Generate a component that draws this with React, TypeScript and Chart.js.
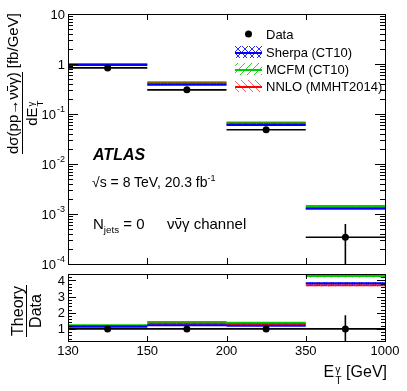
import React, { useEffect, useRef } from "react";
import { Chart, registerables } from "chart.js";

Chart.register(...registerables);

// ---------------- data ----------------
const binEdgeLabels = ["130", "150", "200", "350", "1000"];
const dataValues = [0.836, 0.304, 0.0484, 3.43e-4];
const dataErrors = [0.06, 0.025, 0.005, 2.9e-4];
const sherpaValues = [0.95, 0.383, 0.06, 1.3e-3];
const mcfmValues = [1.0, 0.434, 0.0677, 1.45e-3];
const nnloValues = [0.97, 0.406, 0.0637, 1.27e-3];

const dataRatio = [1, 1, 1, 1];
const dataRatioErrors = [0.08, 0.09, 0.1, 0.85];
const sherpaRatio = [1.14, 1.22, 1.2, 3.82];
const mcfmRatio = [1.22, 1.42, 1.38, 4.27];
const nnloRatio = [1.18, 1.32, 1.28, 3.7];
const bandRelUnc = 0.02;

const topMajorTicks = [10, 1, 0.1, 0.01, 0.001, 0.0001];
const topMajorLabels: [string, string][] = [
  ["10", ""],
  ["1", ""],
  ["10", "-1"],
  ["10", "-2"],
  ["10", "-3"],
  ["10", "-4"],
];
const ratioMajorTicks = [1, 2, 3, 4];
const ratioMajorLabels = ["1", "2", "3", "4"];

const legendLabels = ["Data", "Sherpa (CT10)", "MCFM (CT10)", "NNLO (MMHT2014)"];

const FONT = "'Liberation Sans', Arial, Helvetica, sans-serif";
const BLUE = "#0000ff";
const GREEN = "#00cc00";
const RED = "#ff0000";

// ---------------- helpers ----------------
type Pt = { x: number; y: number | null };
function segs(vals: number[]): Pt[] {
  const pts: Pt[] = [];
  vals.forEach((v, i) => {
    pts.push({ x: i, y: v }, { x: i + 1, y: v }, { x: i + 1, y: null });
  });
  return pts;
}
function errSegs(vals: number[], errs: number[]): Pt[] {
  const pts: Pt[] = [];
  vals.forEach((v, i) => {
    pts.push({ x: i + 0.5, y: v - errs[i] }, { x: i + 0.5, y: v + errs[i] }, { x: i + 0.5, y: null });
  });
  return pts;
}
function centers(vals: number[]): Pt[] {
  return vals.map((v, i) => ({ x: i + 0.5, y: v }));
}

function makePattern(color: string, kind: "x" | "/" | "\\"): CanvasPattern | string {
  const c = document.createElement("canvas");
  const s = 7;
  c.width = s;
  c.height = s;
  const g = c.getContext("2d");
  if (!g) return color;
  g.strokeStyle = color;
  g.globalAlpha = 0.85;
  g.lineWidth = 1;
  const fwd = () => {
    g.beginPath();
    g.moveTo(0, s);
    g.lineTo(s, 0);
    g.moveTo(-1, 1);
    g.lineTo(1, -1);
    g.moveTo(s - 1, s + 1);
    g.lineTo(s + 1, s - 1);
    g.stroke();
  };
  const back = () => {
    g.beginPath();
    g.moveTo(0, 0);
    g.lineTo(s, s);
    g.moveTo(s - 1, -1);
    g.lineTo(s + 1, 1);
    g.moveTo(-1, s - 1);
    g.lineTo(1, s + 1);
    g.stroke();
  };
  if (kind === "/" || kind === "x") fwd();
  if (kind === "\\" || kind === "x") back();
  const p = g.createPattern(c, "repeat");
  return p || color;
}

function theorySets(vals: number[], color: string, pattern: any, order: number) {
  return [
    {
      data: segs(vals.map((v) => v * (1 + bandRelUnc))),
      borderWidth: 0,
      pointRadius: 0,
      fill: false,
      order,
    },
    {
      data: segs(vals.map((v) => v * (1 - bandRelUnc))),
      borderWidth: 0,
      pointRadius: 0,
      fill: "-1",
      backgroundColor: pattern,
      order,
    },
    {
      data: segs(vals),
      borderColor: color,
      borderWidth: 2,
      pointRadius: 0,
      fill: false,
      order,
    },
  ];
}

function dataSets(vals: number[], errs: number[]) {
  return [
    {
      data: centers(vals),
      showLine: false,
      pointRadius: 3.5,
      pointBackgroundColor: "#000",
      pointBorderWidth: 0,
      order: 0,
    },
    { data: segs(vals), borderColor: "#000", borderWidth: 1.6, pointRadius: 0, order: 1 },
    { data: errSegs(vals, errs), borderColor: "#000", borderWidth: 1.6, pointRadius: 0, order: 1 },
  ];
}

function crisp(v: number) {
  return Math.round(v) + 0.5;
}

function drawFrame(chart: any, xTickLen: number) {
  const { ctx, chartArea: a, scales } = chart;
  const x = scales.x;
  ctx.save();
  ctx.strokeStyle = "#000";
  ctx.lineWidth = 1;
  ctx.strokeRect(crisp(a.left), crisp(a.top), Math.round(a.right - a.left), Math.round(a.bottom - a.top));
  ctx.beginPath();
  for (let i = 1; i < binEdgeLabels.length - 1; i++) {
    const px = crisp(x.getPixelForValue(i));
    ctx.moveTo(px, a.bottom);
    ctx.lineTo(px, a.bottom - xTickLen);
    ctx.moveTo(px, a.top);
    ctx.lineTo(px, a.top + xTickLen);
  }
  ctx.stroke();
  ctx.restore();
}

function yTick(ctx: any, a: any, py: number, len: number) {
  const y = crisp(py);
  ctx.moveTo(a.left, y);
  ctx.lineTo(a.left + len, y);
  ctx.moveTo(a.right, y);
  ctx.lineTo(a.right - len, y);
}

function makeTopAxesPlugin(pats: any[]) {
  return {
    id: "topAxes",
    afterDraw(chart: any) {
      const { ctx, chartArea: a, scales } = chart;
      const y = scales.y;
      drawFrame(chart, 6);
      ctx.save();
      ctx.strokeStyle = "#000";
      ctx.lineWidth = 1;
      ctx.beginPath();
      topMajorTicks.forEach((v) => yTick(ctx, a, y.getPixelForValue(v), 10));
      for (let d = -4; d < 1; d++) {
        for (let m = 2; m <= 9; m++) {
          const v = m * Math.pow(10, d);
          yTick(ctx, a, y.getPixelForValue(v), 5);
        }
      }
      ctx.stroke();
      // labels
      ctx.fillStyle = "#000";
      ctx.textBaseline = "middle";
      topMajorTicks.forEach((v, i) => {
        const py = y.getPixelForValue(v);
        const [base, exp] = topMajorLabels[i];
        const right = a.left - 3;
        ctx.font = `13px ${FONT}`;
        const bw = ctx.measureText(base).width;
        ctx.font = `9px ${FONT}`;
        const ew = exp ? ctx.measureText(exp).width + 1 : 0;
        ctx.font = `13px ${FONT}`;
        ctx.textAlign = "left";
        ctx.fillText(base, right - ew - bw, py + 1);
        if (exp) {
          ctx.font = `9px ${FONT}`;
          ctx.fillText(exp, right - ew + 1, py - 4);
        }
      });
      // legend
      const lx = 235;
      const lw = 27;
      const ly = [34, 52, 69, 86];
      const cols = [null, BLUE, GREEN, RED];
      ctx.textAlign = "left";
      legendLabels.forEach((lab, i) => {
        const yy = ly[i];
        if (i === 0) {
          ctx.beginPath();
          ctx.fillStyle = "#000";
          ctx.arc(lx + lw / 2, yy, 3.5, 0, Math.PI * 2);
          ctx.fill();
        } else {
          ctx.fillStyle = pats[i - 1];
          ctx.fillRect(lx, yy - 6, lw, 12);
          ctx.beginPath();
          ctx.strokeStyle = cols[i] as string;
          ctx.lineWidth = 2;
          ctx.moveTo(lx, yy + 1);
          ctx.lineTo(lx + lw, yy + 1);
          ctx.stroke();
        }
        ctx.fillStyle = "#000";
        ctx.font = `13px ${FONT}`;
        ctx.fillText(lab, 266, yy + 1);
      });
      ctx.restore();
    },
  };
}

const ratioAxesPlugin = {
  id: "ratioAxes",
  afterDraw(chart: any) {
    const { ctx, chartArea: a, scales } = chart;
    const y = scales.y;
    const x = scales.x;
    drawFrame(chart, 5);
    ctx.save();
    ctx.strokeStyle = "#000";
    ctx.lineWidth = 1;
    ctx.beginPath();
    ratioMajorTicks.forEach((v) => yTick(ctx, a, y.getPixelForValue(v), 8));
    for (let k = 0; k * 0.2 <= y.max + 1e-9; k++) {
      const v = k * 0.2;
      if (v < y.min) continue;
      if (Math.abs(v - Math.round(v)) < 1e-6) continue;
      yTick(ctx, a, y.getPixelForValue(v), 4);
    }
    ctx.stroke();
    ctx.fillStyle = "#000";
    ctx.font = `13px ${FONT}`;
    ctx.textBaseline = "middle";
    ctx.textAlign = "right";
    ratioMajorTicks.forEach((v, i) => {
      ctx.fillText(ratioMajorLabels[i], a.left - 3, y.getPixelForValue(v) + 1);
    });
    ctx.textAlign = "center";
    binEdgeLabels.forEach((lab, i) => {
      ctx.fillText(lab, x.getPixelForValue(i), a.bottom + 10);
    });
    ctx.restore();
  },
};

function baseOptions(padding: any, yScale: any) {
  return {
    animation: false as const,
    responsive: false,
    events: [] as any[],
    layout: { padding },
    plugins: { legend: { display: false }, tooltip: { enabled: false } },
    scales: {
      x: { type: "linear" as const, min: 0, max: 4, display: false },
      y: { ...yScale, display: false },
    },
  };
}

function SupSub({ sup, sub }: { sup: string; sub: string }) {
  return (
    <span
      style={{
        display: "inline-flex",
        flexDirection: "column",
        fontSize: "0.65em",
        lineHeight: 1,
        verticalAlign: "0.35em",
        marginLeft: 1,
      }}
    >
      <span>{sup}</span>
      <span>{sub}</span>
    </span>
  );
}

const Nubar = () => (
  <span style={{ display: "inline-block", position: "relative" }}>
    ν
    <span
      style={{
        position: "absolute",
        left: 1,
        right: 1,
        top: "0.18em",
        borderTop: "1px solid #000",
      }}
    />
  </span>
);

export default function App() {
  const topRef = useRef<HTMLCanvasElement>(null);
  const botRef = useRef<HTMLCanvasElement>(null);

  useEffect(() => {
    const pBlue = makePattern(BLUE, "x");
    const pGreen = makePattern(GREEN, "/");
    const pRed = makePattern("#ff4444", "\\");

    const topChart = new Chart(topRef.current as HTMLCanvasElement, {
      type: "line",
      data: {
        datasets: [
          ...dataSets(dataValues, dataErrors),
          ...theorySets(sherpaValues, BLUE, pBlue, 2),
          ...theorySets(nnloValues, RED, pRed, 3),
          ...theorySets(mcfmValues, GREEN, pGreen, 4),
        ] as any,
      },
      options: baseOptions(
        { left: 68, right: 22, top: 14, bottom: 391 - 264 },
        { type: "logarithmic", min: 1e-4, max: 10 }
      ) as any,
      plugins: [makeTopAxesPlugin([pBlue, pGreen, pRed])],
    });

    const botChart = new Chart(botRef.current as HTMLCanvasElement, {
      type: "line",
      data: {
        datasets: [
          ...dataSets(dataRatio, dataRatioErrors),
          ...theorySets(sherpaRatio, BLUE, pBlue, 2),
          ...theorySets(nnloRatio, RED, pRed, 3),
          ...theorySets(mcfmRatio, GREEN, pGreen, 4),
        ] as any,
      },
      options: baseOptions(
        { left: 68, right: 22, top: 274, bottom: 391 - 341 },
        { type: "linear", min: 0.25, max: 4.4 }
      ) as any,
      plugins: [ratioAxesPlugin],
    });

    return () => {
      topChart.destroy();
      botChart.destroy();
    };
  }, []);

  const canvasStyle: React.CSSProperties = { position: "absolute", left: 0, top: 0 };

  return (
    <div
      style={{
        position: "absolute",
        left: 0,
        top: 0,
        width: 407,
        height: 391,
        background: "#fff",
        fontFamily: FONT,
        color: "#000",
        overflow: "hidden",
      }}
    >
      <canvas ref={topRef} width={407} height={391} style={canvasStyle} />
      <canvas ref={botRef} width={407} height={391} style={canvasStyle} />

      {/* top y title */}
      <div
        style={{
          position: "absolute",
          left: 22 - 71,
          top: 83 - 18,
          width: 142,
          height: 36,
          transform: "rotate(-90deg)",
          display: "flex",
          alignItems: "flex-start",
          fontSize: 15,
          whiteSpace: "nowrap",
        }}
      >
        <div style={{ display: "flex", flexDirection: "column", alignItems: "center" }}>
          <div style={{ lineHeight: "17px", borderBottom: "1px solid #000", paddingBottom: 1 }}>
            dσ(pp→ν<Nubar />γ)
          </div>
          <div style={{ lineHeight: "17px" }}>
            dE<SupSub sup="γ" sub="T" />
          </div>
        </div>
        <div style={{ lineHeight: "17px", marginLeft: 4 }}>[fb/GeV]</div>
      </div>

      {/* ratio y title */}
      <div
        style={{
          position: "absolute",
          left: 26 - 32,
          top: 311 - 17,
          width: 64,
          height: 34,
          transform: "rotate(-90deg)",
          display: "flex",
          justifyContent: "center",
          fontSize: 16,
          whiteSpace: "nowrap",
        }}
      >
        <div style={{ display: "flex", flexDirection: "column", alignItems: "center" }}>
          <div style={{ lineHeight: "17px", borderBottom: "1px solid #000", padding: "0 1px" }}>Theory</div>
          <div style={{ lineHeight: "17px" }}>Data</div>
        </div>
      </div>

      {/* x title */}
      <div
        style={{
          position: "absolute",
          right: 407 - 387,
          top: 362,
          fontSize: 16,
          lineHeight: "20px",
          whiteSpace: "nowrap",
        }}
      >
        E<SupSub sup="γ" sub="T" /> [GeV]
      </div>

      {/* annotations */}
      <div
        style={{
          position: "absolute",
          left: 93,
          top: 145,
          fontSize: 16,
          fontWeight: "bold",
          fontStyle: "italic",
          lineHeight: "20px",
        }}
      >
        ATLAS
      </div>
      <div style={{ position: "absolute", left: 92, top: 169, fontSize: 14, lineHeight: "18px", whiteSpace: "nowrap" }}>
        √s = 8 TeV, 20.3 fb<sup style={{ fontSize: "0.65em" }}>-1</sup>
      </div>
      <div style={{ position: "absolute", left: 93, top: 215, fontSize: 15, lineHeight: "18px", whiteSpace: "nowrap" }}>
        N<sub style={{ fontSize: "0.65em" }}>jets</sub> = 0
      </div>
      <div style={{ position: "absolute", left: 167, top: 215, fontSize: 15, lineHeight: "18px", whiteSpace: "nowrap" }}>
        ν<Nubar />γ channel
      </div>
    </div>
  );
}
